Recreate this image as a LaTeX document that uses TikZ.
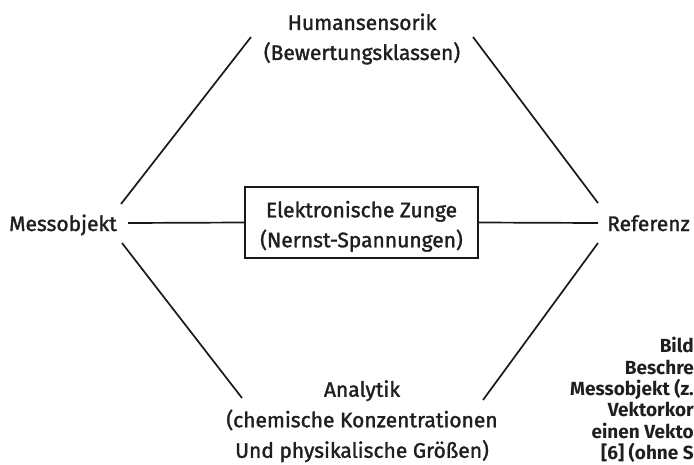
\documentclass[tikz,border=0pt]{standalone}
\usepackage{fontspec}
\setmainfont{Fira Sans}
\newfontfamily\medf{Fira Sans}[UprightFeatures={FakeBold=1.5}]
\begin{document}
\begin{tikzpicture}[x=1pt,y=-1pt,
  lbl/.style={font=\medf\fontsize{21}{30}\selectfont, align=center, text=black!88, inner sep=0pt},
  capt/.style={font=\fontsize{19}{21.4}\selectfont\bfseries, align=right, text=black!88, inner sep=0pt},
  boxed/.style={lbl, draw=black!90, line width=1.7pt, minimum width=233pt, minimum height=71pt},
  conn/.style={line width=1.7pt, draw=black!90}]
\useasboundingbox (0,0) rectangle (694,464);
% labels
\node[lbl] (human) at (362,39) {Humansensorik\\(Bewertungsklassen)};
\node[lbl, anchor=base east] (mess) at (117,231) {Messobjekt};
\node[boxed] (zunge) at (361.5,222.5) {\rule{0pt}{24pt}Elektronische Zunge\\(Nernst-Spannungen)};
\node[lbl, anchor=base west] (ref) at (607,231) {Referenz};
\node[lbl, font=\medf\fontsize{21}{30.5}\selectfont] (analytik) at (362,421.3) {Analytik\\(chemische Konzentrationen\\Und physikalische Größen)};
\node[capt, anchor=north east] (caption) at (694,337) {Bild\\Beschre\\Messobjekt (z.\\Vektorkor\\einen Vekto\\{}[6] (ohne S};
% connector ends
\coordinate (m-n) at (121,204);
\coordinate (m-e) at (128,223);
\coordinate (m-s) at (122,243);
\coordinate (h-w) at (251,37);
\coordinate (h-e) at (473,37);
\coordinate (r-n) at (598,203);
\coordinate (r-w) at (598,223);
\coordinate (r-s) at (598,243);
\coordinate (a-w) at (242,398);
\coordinate (a-e) at (483,400);
% connectors
\draw[conn] (m-n) -- (h-w);
\draw[conn] (h-e) -- (r-n);
\draw[conn] (m-e) -- (zunge.west);
\draw[conn] (zunge.east) -- (r-w);
\draw[conn] (m-s) -- (a-w);
\draw[conn] (r-s) -- (a-e);
\end{tikzpicture}
\end{document}
